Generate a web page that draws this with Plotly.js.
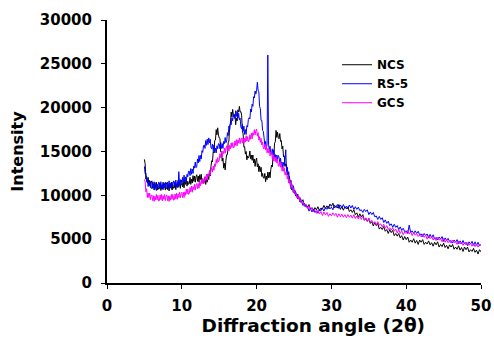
<!DOCTYPE html>
<html>
<head>
<meta charset="utf-8">
<script src="https://cdn.plot.ly/plotly-3.0.1.min.js"></script>
<style>html,body{margin:0;padding:0;background:#fff;}#chart{width:494px;height:339px;}</style>
</head>
<body>
<div id="chart"></div>
<script>
// Diffraction angle sampling (2θ): fine scan 5.0-25.9 step 0.1, then 26.0-50.0 step 0.2
const scanSegments = [{start: 5, step: 0.1, count: 210}, {start: 26, step: 0.2, count: 121}];

// ---- NCS intensity ----
// 5.0-25.9, one row per degree (x.0 ... x.9)
const ncsFine = [
  14100, 13600, 11850, 12150, 11400, 12050, 11200, 11700, 10900, 11500, // 5
  11650, 10800, 11300, 10600, 11450, 10900, 11500, 10600, 11100, 10700, // 6
  10750, 11400, 10550, 11150, 10700, 11500, 10800, 11350, 10600, 11250, // 7
  11450, 10650, 11200, 10500, 11350, 10850, 11500, 10600, 11200, 10800, // 8
  10850, 11500, 10650, 11300, 10900, 11700, 11000, 11550, 10800, 11500, // 9
  11750, 10950, 11500, 10850, 11750, 11250, 11900, 11050, 11600, 11250, // 10
  11350, 12050, 11250, 11850, 11400, 12250, 11600, 12200, 11500, 12150, // 11
  12350, 11600, 12200, 11500, 12350, 11800, 12400, 11450, 11900, 11450, // 12
  11450, 12100, 11250, 11900, 11500, 12400, 11800, 12650, 12200, 13300, // 13
  13950, 13800, 15000, 14850, 16250, 16300, 17500, 16900, 17700, 16900, // 14
  16550, 16500, 14950, 14950, 13900, 14250, 13100, 13650, 12900, 14000, // 15
  14650, 14650, 16000, 16200, 17950, 18150, 19500, 18950, 19800, 19150, // 16
  18950, 19250, 18050, 18800, 18500, 19750, 19500, 20150, 19500, 19550, // 17
  19150, 17400, 17000, 15500, 15550, 14700, 15000, 14050, 14500, 14250, // 18
  14450, 15050, 14150, 14600, 14000, 14600, 13700, 14150, 13300, 14000, // 19
  14250, 13250, 13600, 12700, 13350, 12700, 13200, 12150, 12500, 12000, // 20
  11950, 12500, 11550, 12200, 11800, 12650, 12000, 12650, 12000, 12950, // 21
  13450, 13250, 14400, 14400, 15950, 16100, 17400, 16600, 17200, 16600, // 22
  16450, 17050, 16150, 16250, 15300, 15600, 14400, 14500, 13300, 13600, // 23
  13450, 12350, 12600, 11600, 12150, 11350, 11700, 10600, 10900, 10350, // 24
  10350, 10600, 9950, 10200, 9800, 10150, 9600, 9800, 9250, 9550        // 25
];
// 26.0-50.0, one row per degree (x.0, x.2, x.4, x.6, x.8)
const ncsCoarse = [
  9250, 9500, 8750, 8950, 8650,      // 26
  8950, 8400, 8600, 8200, 8600,      // 27
  8350, 8700, 8250, 8550, 8450,      // 28
  8850, 8500, 8800, 8500, 9000,      // 29
  8750, 9100, 8550, 8750, 8550,      // 30
  8950, 8400, 8700, 8300, 8700,      // 31
  8450, 8700, 8150, 8350, 8050,      // 32
  8350, 7800, 8000, 7500, 7900,      // 33
  7550, 7800, 7150, 7350, 7050,      // 34
  7350, 6800, 7000, 6500, 6900,      // 35
  6550, 6800, 6150, 6350, 6100,      // 36
  6450, 5900, 6100, 5650, 6100,      // 37
  5750, 6000, 5400, 5650, 5350,      // 38
  5650, 5150, 5400, 4900, 5300,      // 39
  4950, 5250, 4650, 4900, 4650,      // 40
  5050, 4550, 4850, 4400, 4900,      // 41
  4650, 4950, 4400, 4650, 4450,      // 42
  4800, 4350, 4600, 4200, 4650,      // 43
  4350, 4700, 4100, 4400, 4150,      // 44
  4550, 4050, 4300, 3900, 4350,      // 45
  4100, 4400, 3850, 4100, 3850,      // 46
  4250, 3750, 4050, 3600, 4100,      // 47
  3800, 4100, 3550, 3800, 3600,      // 48
  3950, 3500, 3750, 3300, 3800,      // 49
  3550                               // 50
];

// ---- RS-5 intensity ----
const rs5Fine = [
  13300, 12450, 12550, 11550, 11800, 11000, 11550, 11100, 11600, 10800, // 5
  10800, 11500, 10900, 11550, 10650, 11150, 10550, 11300, 10900, 11500, // 6
  11450, 10850, 11550, 10800, 11300, 10650, 11350, 10950, 11500, 10750, // 7
  10800, 11500, 10900, 11650, 10850, 11350, 10750, 11500, 11100, 11650, // 8
  11550, 11000, 11750, 11000, 11500, 10900, 12700, 11250, 11800, 11150, // 9
  11300, 12050, 11500, 12300, 11550, 12100, 11550, 12400, 12100, 12750, // 10
  12750, 12250, 13050, 12400, 13000, 12500, 13350, 13100, 13800, 13150, // 11
  13300, 14150, 13700, 14550, 13850, 14550, 14150, 15100, 14900, 15650, // 12
  15750, 15350, 16250, 15700, 16400, 15800, 16550, 16000, 16400, 15450, // 13
  15300, 15850, 15100, 15750, 14850, 15400, 14850, 15650, 15300, 15900, // 14
  15850, 15300, 16050, 15350, 15900, 15350, 16150, 15900, 16600, 16000, // 15
  16200, 17150, 16800, 17900, 17450, 18300, 18050, 18850, 18500, 19150, // 16
  19150, 18750, 19650, 19000, 19600, 18800, 19350, 18600, 18800, 17800, // 17
  17600, 18100, 17300, 17900, 16950, 17500, 16950, 17950, 17800, 18650, // 18
  18850, 18700, 19850, 19500, 20400, 20150, 21250, 21100, 21900, 21550, // 19
  22000, 22900, 22000, 21800, 20150, 19900, 18550, 18550, 17400, 17300, // 20
  16550, 15700, 16150, 15350, 15800, 26000, 15750, 15200, 15600, 14750, // 21
  14700, 15300, 14600, 15200, 14250, 14650, 13950, 14600, 14100, 14550, // 22
  14350, 13650, 14250, 13400, 13800, 13100, 13750, 13400, 14000, 15200, // 23
  12700, 13200, 12400, 12700, 11450, 11650, 10750, 11300, 10700, 11100, // 24
  10700, 10200, 10450, 9900, 10100, 9600, 9850, 9500, 9750, 9200        // 25
];
const rs5Coarse = [
  9350, 8850, 9100, 8650, 8750,      // 26
  8200, 8500, 8100, 8450, 8050,      // 27
  8250, 7950, 8400, 8250, 8550,      // 28
  8200, 8600, 8400, 8750, 8450,      // 29
  8650, 8350, 8900, 8650, 8950,      // 30
  8500, 8900, 8600, 8950, 8550,      // 31
  8750, 8450, 8900, 8550, 8850,      // 32
  8400, 8700, 8400, 8650, 8250,      // 33
  8350, 8050, 8400, 8150, 8350,      // 34
  7800, 8100, 7800, 8050, 7550,      // 35
  7650, 7250, 7600, 7250, 7450,      // 36
  6900, 7200, 6800, 7050, 6550,      // 37
  6750, 6350, 6700, 6350, 6550,      // 38
  6100, 6400, 6000, 6250, 5850,      // 39
  5950, 5650, 6600, 5750, 5950,      // 40
  5650, 5950, 5650, 5900, 5500,      // 41
  5600, 5300, 5650, 5400, 5600,      // 42
  5150, 5550, 5150, 5500, 5000,      // 43
  5200, 4900, 5250, 5000, 5300,      // 44
  4750, 5150, 4850, 5100, 4700,      // 45
  4850, 4550, 4900, 4650, 4950,      // 46
  4500, 4800, 4500, 4850, 4450,      // 47
  4650, 4250, 4700, 4450, 4750,      // 48
  4300, 4700, 4300, 4650, 4250,      // 49
  4400                               // 50
];

// ---- GCS intensity ----
const gcsFine = [
  11800, 11550, 10400, 10750, 9750, 10250, 9750, 10250, 9500, 9950,     // 5
  10050, 9400, 9950, 9300, 9900, 9450, 10100, 9500, 10000, 9350,        // 6
  9400, 10050, 9500, 10100, 9350, 9950, 9550, 10100, 9400, 9900,        // 7
  10050, 9400, 9950, 9300, 9900, 9450, 10100, 9550, 10100, 9450,        // 8
  9500, 10150, 9600, 10250, 9550, 10150, 9750, 10350, 9700, 10200,      // 9
  10350, 9750, 10350, 9750, 10400, 10000, 10700, 10150, 10700, 10100,   // 10
  10200, 10900, 10400, 11050, 10350, 11000, 10650, 11250, 10600, 11150, // 11
  11350, 10750, 11350, 10800, 11500, 11100, 11800, 11300, 11900, 11300, // 12
  11400, 12150, 11700, 12400, 11750, 12450, 12150, 12850, 12300, 12900, // 13
  13150, 12650, 13350, 12850, 13600, 13300, 14100, 13650, 14300, 13800, // 14
  14000, 14750, 14300, 15000, 14350, 15050, 14750, 15400, 14800, 15400, // 15
  15650, 15050, 15650, 15050, 15700, 15300, 16000, 15450, 16000, 15400, // 16
  15500, 16200, 15700, 16350, 15650, 16300, 15950, 16550, 15900, 16400, // 17
  16550, 15950, 16550, 15900, 16500, 16100, 16800, 16200, 16700, 16100, // 18
  16200, 16900, 16400, 17100, 16450, 17150, 16850, 17500, 16900, 17400, // 19
  17550, 16750, 17150, 16300, 16700, 16050, 16500, 15750, 16100, 15350, // 20
  15300, 15850, 15200, 15700, 14850, 15350, 14850, 15300, 14500, 14900, // 21
  14950, 14200, 14650, 13900, 14400, 13850, 14400, 13700, 14100, 13350, // 22
  13300, 13850, 13200, 13650, 12750, 13250, 12750, 13150, 12300, 12650, // 23
  12650, 11850, 12250, 11400, 11800, 11150, 11600, 10800, 11100, 10300, // 24
  10300, 10550, 10100, 10300, 9700, 9950, 9600, 9850, 9300, 9500        // 25
];
const gcsCoarse = [
  9150, 9300, 8800, 8950, 8500,      // 26
  8800, 8350, 8550, 8100, 8300,      // 27
  7950, 8300, 7900, 8150, 7700,      // 28
  8100, 7750, 8050, 7600, 7900,      // 29
  7650, 8000, 7700, 7950, 7500,      // 30
  7900, 7550, 7850, 7500, 7800,      // 31
  7450, 7800, 7500, 7750, 7400,      // 32
  7800, 7350, 7650, 7300, 7600,      // 33
  7250, 7600, 7200, 7450, 7000,      // 34
  7400, 6950, 7150, 6800, 7000,      // 35
  6650, 7000, 6600, 6750, 6400,      // 36
  6700, 6250, 6550, 6100, 6300,      // 37
  6050, 6300, 5900, 6150, 5700,      // 38
  6100, 5650, 5950, 5500, 5800,      // 39
  5650, 6000, 5600, 5850, 5400,      // 40
  5800, 5450, 5650, 5300, 5500,      // 41
  5250, 5600, 5200, 5450, 5000,      // 42
  5400, 5050, 5250, 4900, 5200,      // 43
  4850, 5200, 4900, 5050, 4700,      // 44
  5100, 4650, 4950, 4600, 4800,      // 45
  4550, 4900, 4600, 4750, 4400,      // 46
  4800, 4450, 4650, 4300, 4600,      // 47
  4350, 4600, 4300, 4550, 4200,      // 48
  4500, 4150, 4450, 4100, 4400,      // 49
  4300                               // 50
];

const seriesNames = ['NCS', 'RS-5', 'GCS'];
const seriesColors = ['#000000', '#0000ff', '#ff00ff'];
const xTickVals = [0, 10, 20, 30, 40, 50];
const yTickVals = [0, 5000, 10000, 15000, 20000, 25000, 30000];

function angles() {
  const a = [];
  scanSegments.forEach(s => {
    for (let i = 0; i < s.count; i++) a.push(+(s.start + i * s.step).toFixed(2));
  });
  return a;
}

const allSeries = [ncsFine.concat(ncsCoarse), rs5Fine.concat(rs5Coarse), gcsFine.concat(gcsCoarse)];
const xs = angles();
const traces = allSeries.map((vals, k) => ({
  type: 'scatter',
  mode: 'lines',
  name: seriesNames[k],
  x: xs.slice(0, vals.length),
  y: vals,
  line: {color: seriesColors[k], width: 1, simplify: false}
}));

const F = 'DejaVu Sans, Arial, sans-serif';
const layout = {
  width: 494,
  height: 339,
  margin: {l: 107, r: 13, t: 20, b: 56},
  paper_bgcolor: '#ffffff',
  plot_bgcolor: '#ffffff',
  showlegend: true,
  legend: {
    x: 0.615, y: 0.885, xanchor: 'left', yanchor: 'top',
    bgcolor: 'rgba(0,0,0,0)',
    font: {family: F, size: 12, color: '#000', weight: 'bold'}
  },
  xaxis: {
    range: [0, 50],
    tickvals: xTickVals,
    ticks: 'outside', ticklen: 4, tickwidth: 1, tickcolor: '#000',
    showline: true, linecolor: '#000', linewidth: 2,
    showgrid: false, zeroline: false,
    tickfont: {family: F, size: 15, color: '#000', weight: 'bold'},
    ticklabelstandoff: 4,
    automargin: false,
    title: {
      text: '\u200b\u00a0\u00a0\u00a0\u00a0\u00a0\u00a0Diffraction angle (2\u03b8)',
      font: {family: F, size: 18.5, color: '#000', weight: 'bold'},
      standoff: 2
    }
  },
  yaxis: {
    range: [0, 30000],
    tickvals: yTickVals,
    tickformat: 'd',
    ticks: 'outside', ticklen: 4, tickwidth: 1, tickcolor: '#000',
    showline: true, linecolor: '#000', linewidth: 2,
    showgrid: false, zeroline: false,
    tickfont: {family: F, size: 15, color: '#000', weight: 'bold'},
    ticklabelstandoff: 6,
    automargin: false,
    title: {
      text: 'Intensity',
      font: {family: F, size: 16, color: '#000', weight: 'bold'},
      standoff: 12
    }
  }
};

Plotly.newPlot('chart', traces, layout, {displayModeBar: false, staticPlot: true});
</script>
</body>
</html>
